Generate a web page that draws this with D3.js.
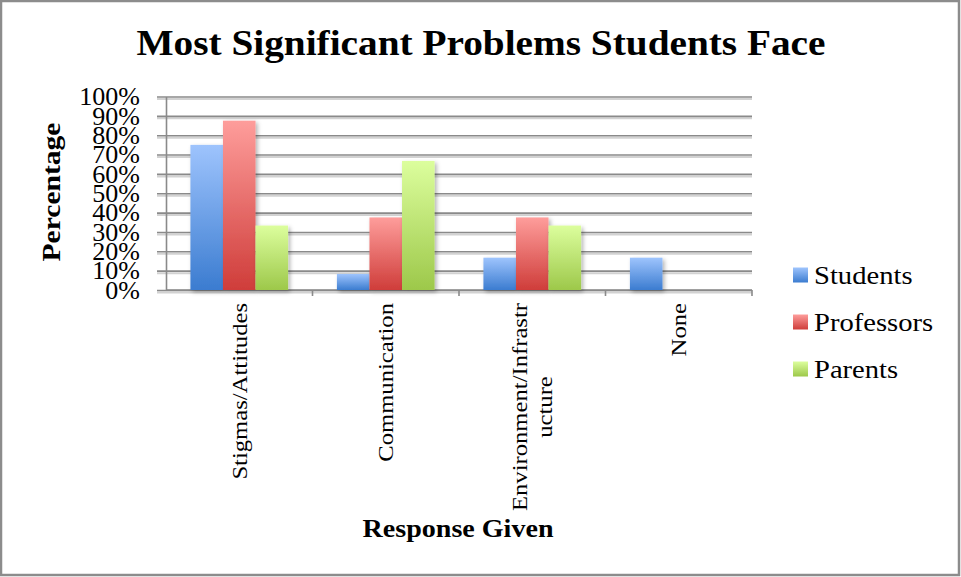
<!DOCTYPE html>
<html>
<head>
<meta charset="utf-8">
<script src="https://cdn.jsdelivr.net/npm/d3@7"></script>
<style>
  html, body { margin: 0; padding: 0; background: #fff; }
  svg { display: block; }
  text { font-family: "Liberation Serif", "Times New Roman", serif; fill: #000; }
</style>
</head>
<body>
<svg id="chart" width="961" height="577"></svg>
<script>
// Survey responses: share of each group naming a problem (percent)
const categories = ["Stigmas/Attitudes", "Communication", "Environment/Infrastructure", "None"];
const categoryLabelLines = [["Stigmas/Attitudes"], ["Communication"], ["Environment/Infrastr", "ucture"], ["None"]];
const seriesNames = ["Students", "Professors", "Parents"];
const students = [75, 8.3, 16.7, 16.7];
const professors = [87.5, 37.5, 37.5, 0];
const parents = [33.3, 66.7, 33.3, 0];
const yTicks = [0, 10, 20, 30, 40, 50, 60, 70, 80, 90, 100];

const seriesValues = [students, professors, parents];
const gradients = [
  { id: "gStudents", top: "#9ec4fd", bottom: "#3b7cd0" },
  { id: "gProfessors", top: "#fe9d9b", bottom: "#cf3d3a" },
  { id: "gParents", top: "#dcfe9d", bottom: "#9dc84a" }
];

const svg = d3.select("#chart");
const W = 961, H = 577;
const plot = { left: 166, right: 752, top: 96.5, bottom: 290 };

// defs: gradients + shadows
const defs = svg.append("defs");
gradients.forEach(g => {
  const lg = defs.append("linearGradient").attr("id", g.id)
    .attr("x1", 0).attr("y1", 0).attr("x2", 0).attr("y2", 1);
  lg.append("stop").attr("offset", "0%").attr("stop-color", g.top);
  lg.append("stop").attr("offset", "100%").attr("stop-color", g.bottom);
});
const sh = defs.append("filter").attr("id", "barShadow")
  .attr("x", "-20%").attr("y", "-10%").attr("width", "150%").attr("height", "130%");
sh.append("feDropShadow").attr("dx", 2).attr("dy", 2).attr("stdDeviation", 2)
  .attr("flood-color", "#000").attr("flood-opacity", 0.3);

// outer frame
svg.append("rect").attr("x", 1).attr("y", 1).attr("width", W - 3).attr("height", H - 3)
  .attr("fill", "#fff").attr("stroke", "#8c8c8c").attr("stroke-width", 2.5);

// scales
const x = d3.scaleBand().domain(categories).range([plot.left, plot.right]).padding(0);
const xSub = d3.scaleBand().domain(seriesNames)
  .range([x.bandwidth() / 6, x.bandwidth() * 5 / 6]).padding(0);
const y = d3.scaleLinear().domain([0, 100]).range([plot.bottom, plot.top]);

// gridlines (with soft shadow beneath each)
const gridShadow = d3.axisRight(y).tickValues(yTicks).tickSize(plot.right - 157).tickFormat("");
svg.append("g").attr("transform", `translate(157,2)`).call(gridShadow)
  .call(g => g.select(".domain").remove())
  .call(g => g.selectAll("line").attr("stroke", "#d2d2d2").attr("stroke-width", 2));
const grid = d3.axisRight(y).tickValues(yTicks).tickSize(plot.right - 157).tickFormat("");
svg.append("g").attr("transform", `translate(157,0)`).call(grid)
  .call(g => g.select(".domain").remove())
  .call(g => g.selectAll("line").attr("stroke", "#8a8a8a").attr("stroke-width", 1.6));

// y axis line + labels
const yAxis = d3.axisLeft(y).tickValues(yTicks).tickSize(0).tickPadding(26)
  .tickFormat(d => d + "%");
svg.append("g").attr("transform", `translate(${plot.left},0)`).call(yAxis)
  .call(g => g.select(".domain").attr("stroke", "#8a8a8a").attr("stroke-width", 1.6))
  .call(g => g.selectAll("text").attr("font-size", 26)
    .attr("font-family", "Liberation Serif").attr("fill", "#000"));

// x axis line + category boundary ticks
const boundaries = categories.map(c => x(c) + x.bandwidth());
const xAxisG = svg.append("g");
xAxisG.append("line").attr("x1", plot.left).attr("x2", plot.right)
  .attr("y1", y(0)).attr("y2", y(0)).attr("stroke", "#8a8a8a").attr("stroke-width", 1.6);
xAxisG.selectAll("line.tk").data(boundaries).join("line").attr("class", "tk")
  .attr("x1", d => d).attr("x2", d => d).attr("y1", y(0)).attr("y2", y(0) + 6)
  .attr("stroke", "#8a8a8a").attr("stroke-width", 1.6);

// bars
const groups = svg.append("g").selectAll("g").data(categories).join("g")
  .attr("transform", d => `translate(${x(d)},0)`);
groups.selectAll("rect")
  .data((c, i) => seriesNames.map((s, j) => ({ s, j, v: seriesValues[j][i] })).filter(d => d.v > 0))
  .join("rect")
  .attr("x", d => xSub(d.s))
  .attr("width", xSub.bandwidth())
  .attr("y", d => y(d.v))
  .attr("height", d => y(0) - y(d.v))
  .attr("fill", d => `url(#${gradients[d.j].id})`)
  .attr("filter", "url(#barShadow)");

// category labels (rotated, wrapped)
const labelTop = y(0) + 13;
const lineGap = 25;
categories.forEach((c, i) => {
  const lines = categoryLabelLines[i];
  const g = svg.append("g")
    .attr("transform", `translate(${x(c) + x.bandwidth() / 2},${labelTop}) rotate(-90)`);
  const texts = g.selectAll("text").data(lines).join("text")
    .attr("font-size", 22)
    .attr("text-anchor", "middle")
    .attr("dominant-baseline", "central")
    .text(d => d);
  texts.each(function () {
    const w = this.getComputedTextLength();
    d3.select(this).attr("textLength", w * 1.12).attr("lengthAdjust", "spacingAndGlyphs");
  });
  const block = d3.max(texts.nodes(), n => +n.getAttribute("textLength"));
  texts.attr("x", -block / 2)
    .attr("y", (d, k) => (k - (lines.length - 1) / 2) * lineGap);
});

// title
svg.append("text").attr("x", 481).attr("y", 55).attr("text-anchor", "middle")
  .attr("font-size", 36).attr("font-weight", "bold")
  .attr("textLength", 689).attr("lengthAdjust", "spacingAndGlyphs")
  .text("Most Significant Problems Students Face");

// axis titles
svg.append("text").attr("transform", "translate(60,192) rotate(-90)")
  .attr("text-anchor", "middle").attr("font-size", 26).attr("font-weight", "bold")
  .attr("textLength", 139).attr("lengthAdjust", "spacingAndGlyphs")
  .text("Percentage");
svg.append("text").attr("x", 458).attr("y", 537).attr("text-anchor", "middle")
  .attr("font-size", 25).attr("font-weight", "bold")
  .attr("textLength", 191).attr("lengthAdjust", "spacingAndGlyphs")
  .text("Response Given");

// legend
const legend = svg.append("g").attr("transform", "translate(793,275)");
const li = legend.selectAll("g").data(seriesNames).join("g")
  .attr("transform", (d, i) => `translate(0,${i * 47})`);
li.append("rect").attr("x", 0).attr("y", -7.5).attr("width", 15).attr("height", 15)
  .attr("fill", (d, i) => `url(#${gradients[i].id})`);
li.append("text").attr("x", 21).attr("y", 9).attr("font-size", 26).text(d => d)
  .each(function () {
    const w = this.getComputedTextLength();
    d3.select(this).attr("textLength", w * 1.1).attr("lengthAdjust", "spacingAndGlyphs");
  });
</script>
</body>
</html>
